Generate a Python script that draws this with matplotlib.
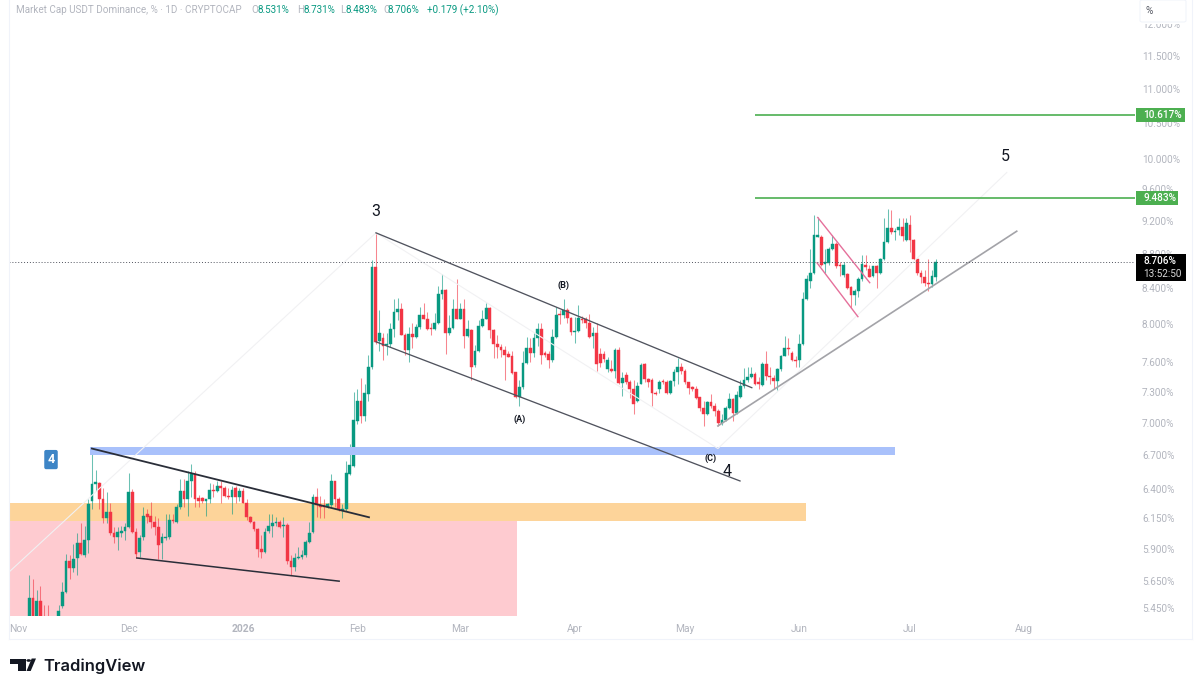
#!/usr/bin/env python3
"""USDT dominance daily candles with the wave count drawings."""
import matplotlib
matplotlib.use("Agg")
import matplotlib.dates as mdates
import matplotlib.pyplot as plt
import numpy as np
import pandas as pd
from matplotlib.patches import Circle, FancyBboxPatch, Polygon, Rectangle

# daily candles, last one is 8 Jul 2026
opens = [
    5.30, 5.52, 5.30, 5.50, 5.36, 5.33, 5.28, 5.25, 5.35, 5.46,
    5.57, 5.81, 5.75, 5.83, 5.95, 5.85, 5.97, 6.30, 6.44, 6.45,
    6.31, 6.15, 6.20, 6.03, 6.00, 6.03, 6.05, 6.08, 6.37, 6.04,
    5.88, 6.00, 6.19, 6.17, 6.12, 6.08, 5.95, 5.99, 6.00, 6.14,
    6.12, 6.25, 6.38, 6.31, 6.47, 6.53, 6.32, 6.32, 6.30, 6.31,
    6.39, 6.38, 6.43, 6.41, 6.34, 6.33, 6.41, 6.33, 6.38, 6.28,
    6.16, 6.12, 6.06, 5.90, 5.88, 6.05, 6.09, 6.11, 6.12, 6.09,
    6.10, 5.81, 5.76, 5.83, 5.84, 5.85, 5.96, 6.04, 6.33, 6.26,
    6.26, 6.25, 6.26, 6.47, 6.31, 6.22, 6.23, 6.53, 6.60,
    7.02, 7.21, 7.06, 7.28, 7.55, 8.64, 7.82, 7.85, 7.78, 7.79,
    7.95, 8.13, 8.16, 7.88, 7.72, 7.89, 7.86, 7.97, 8.10, 8.06,
    7.96, 7.95, 8.01, 8.33, 8.38, 7.90, 7.96, 8.16, 8.06, 8.16,
    7.87, 7.94, 7.57, 7.71, 7.98, 8.06, 8.18, 7.94, 7.79, 7.76,
    7.72, 7.68, 7.66, 7.50, 7.25, 7.35, 7.59, 7.74, 7.69, 7.85,
    7.95, 7.69, 7.68, 7.62, 7.86, 8.11, 8.10, 8.15, 8.07, 7.91,
    7.92, 8.06, 8.05, 8.01, 7.87, 7.90, 7.68, 7.68, 7.53, 7.53,
    7.51, 7.72, 7.39, 7.47, 7.40, 7.33, 7.21, 7.38, 7.58, 7.43,
    7.42, 7.29, 7.33, 7.41, 7.40, 7.29, 7.41, 7.50, 7.55, 7.51,
    7.40, 7.35, 7.33, 7.25, 7.14, 7.08, 7.20, 7.16, 7.11, 7.00,
    7.03, 7.14, 7.23, 7.09,
    7.25, 7.36, 7.42, 7.45, 7.48, 7.40, 7.37, 7.58, 7.46, 7.44,
    7.41, 7.53, 7.66, 7.74, 7.69, 7.62, 7.62, 7.79, 8.27, 8.48,
    8.57, 9.00, 9.00, 8.68, 8.69, 8.85, 8.92, 8.67, 8.55, 8.56,
    8.41, 8.32, 8.37, 8.50, 8.67, 8.62, 8.54, 8.65, 8.57, 8.73,
    8.94, 9.11, 9.06, 9.08, 9.12, 8.96, 9.15, 8.96, 8.73, 8.57,
    8.52, 8.46, 8.44, 8.531,
]
highs = [
    5.70, 5.67, 5.58, 5.61, 5.47, 5.47, 5.37, 5.39, 5.47, 5.64,
    5.86, 5.85, 5.94, 6.03, 6.11, 6.09, 6.31, 6.76, 6.57, 6.46,
    6.41, 6.37, 6.28, 6.08, 6.08, 6.09, 6.11, 6.54, 6.40, 6.07,
    6.01, 6.25, 6.23, 6.29, 6.17, 6.15, 6.03, 6.19, 6.19, 6.19,
    6.27, 6.49, 6.49, 6.56, 6.62, 6.56, 6.35, 6.33, 6.31, 6.45,
    6.44, 6.47, 6.47, 6.43, 6.41, 6.43, 6.43, 6.41, 6.41, 6.31,
    6.17, 6.13, 6.07, 6.01, 6.07, 6.19, 6.19, 6.16, 6.14, 6.16,
    6.11, 5.85, 5.87, 5.92, 5.89, 5.97, 6.12, 6.36, 6.41, 6.34,
    6.31, 6.28, 6.53, 6.47, 6.33, 6.27, 6.65, 6.80, 7.30,
    7.33, 7.44, 7.38, 7.67, 8.72, 9.04, 8.15, 7.90, 7.90, 8.01,
    8.27, 8.29, 8.23, 7.90, 7.97, 8.01, 8.00, 8.19, 8.23, 8.13,
    8.01, 8.12, 8.42, 8.56, 8.39, 8.10, 8.27, 8.50, 8.23, 8.27,
    8.04, 7.95, 7.78, 8.04, 8.15, 8.23, 8.19, 7.95, 7.88, 7.79,
    7.77, 7.71, 7.71, 7.50, 7.42, 7.71, 7.86, 7.85, 7.90, 8.01,
    8.01, 7.71, 7.71, 7.95, 8.19, 8.15, 8.27, 8.18, 8.08, 8.08,
    8.21, 8.09, 8.08, 8.11, 7.97, 8.01, 7.75, 7.71, 7.65, 7.62,
    7.74, 7.76, 7.50, 7.50, 7.42, 7.42, 7.40, 7.59, 7.59, 7.44,
    7.44, 7.31, 7.42, 7.43, 7.42, 7.42, 7.53, 7.64, 7.59, 7.53,
    7.40, 7.36, 7.36, 7.25, 7.21, 7.21, 7.28, 7.19, 7.13, 7.08,
    7.16, 7.29, 7.24, 7.31,
    7.42, 7.54, 7.55, 7.55, 7.50, 7.45, 7.60, 7.71, 7.55, 7.47,
    7.54, 7.67, 7.87, 7.85, 7.71, 7.66, 7.89, 8.35, 8.55, 8.85,
    9.27, 9.25, 9.02, 8.85, 8.88, 9.02, 8.94, 8.70, 8.70, 8.57,
    8.42, 8.39, 8.52, 8.78, 8.78, 8.66, 8.65, 8.67, 8.75, 9.23,
    9.35, 9.33, 9.11, 9.23, 9.23, 9.23, 9.27, 8.97, 8.74, 8.61,
    8.61, 8.74, 8.61, 8.731,
]
lows = [
    5.25, 5.28, 5.25, 5.25, 5.25, 5.22, 5.20, 5.20, 5.30, 5.45,
    5.56, 5.67, 5.72, 5.70, 5.85, 5.84, 5.87, 6.23, 6.38, 6.23,
    6.11, 6.11, 6.01, 5.95, 5.89, 6.00, 5.97, 6.07, 6.03, 5.83,
    5.84, 5.97, 6.11, 6.07, 6.01, 5.82, 5.82, 5.97, 5.98, 6.11,
    6.11, 6.23, 6.25, 6.17, 6.33, 6.25, 6.25, 6.28, 6.17, 6.28,
    6.33, 6.37, 6.28, 6.33, 6.31, 6.19, 6.28, 6.30, 6.28, 6.14,
    6.11, 6.05, 5.84, 5.83, 5.87, 6.03, 6.00, 6.09, 6.07, 6.00,
    5.78, 5.70, 5.73, 5.82, 5.82, 5.84, 5.95, 6.03, 6.16, 6.15,
    6.15, 6.24, 6.25, 6.25, 6.21, 6.15, 6.21, 6.52, 6.59,
    6.99, 7.00, 7.02, 7.21, 7.53, 7.79, 7.71, 7.62, 7.67, 7.76,
    7.86, 8.04, 7.88, 7.67, 7.60, 7.74, 7.85, 7.95, 8.05, 7.94,
    7.88, 7.94, 8.00, 8.27, 7.68, 7.88, 7.95, 8.06, 8.05, 7.74,
    7.86, 7.42, 7.55, 7.70, 7.97, 8.05, 7.85, 7.64, 7.64, 7.65,
    7.42, 7.65, 7.48, 7.24, 7.16, 7.33, 7.58, 7.60, 7.65, 7.77,
    7.58, 7.65, 7.54, 7.60, 7.85, 8.00, 8.07, 8.01, 7.88, 7.80,
    7.91, 8.01, 7.96, 7.85, 7.74, 7.51, 7.55, 7.60, 7.50, 7.50,
    7.44, 7.38, 7.26, 7.38, 7.24, 7.08, 7.20, 7.38, 7.40, 7.35,
    7.16, 7.27, 7.29, 7.38, 7.28, 7.28, 7.36, 7.38, 7.48, 7.38,
    7.28, 7.31, 7.23, 7.11, 6.97, 7.07, 7.14, 7.06, 6.97, 6.98,
    7.02, 7.13, 7.02, 7.08,
    7.24, 7.34, 7.40, 7.44, 7.37, 7.33, 7.36, 7.42, 7.38, 7.33,
    7.32, 7.51, 7.66, 7.67, 7.61, 7.55, 7.55, 7.78, 8.26, 8.40,
    8.56, 9.00, 8.65, 8.57, 8.67, 8.84, 8.63, 8.54, 8.53, 8.39,
    8.17, 8.21, 8.30, 8.48, 8.61, 8.52, 8.52, 8.40, 8.56, 8.72,
    8.93, 9.03, 8.96, 9.02, 8.95, 8.95, 8.82, 8.72, 8.55, 8.46,
    8.42, 8.37, 8.41, 8.483,
]
closes = [
    5.52, 5.30, 5.50, 5.32, 5.30, 5.25, 5.22, 5.35, 5.43, 5.57,
    5.81, 5.75, 5.82, 5.95, 5.86, 5.97, 6.27, 6.44, 6.46, 6.31,
    6.15, 6.20, 6.03, 6.00, 6.04, 6.05, 6.08, 6.37, 6.04, 5.86,
    5.99, 6.17, 6.16, 6.12, 6.08, 5.93, 6.00, 6.00, 6.14, 6.13,
    6.25, 6.38, 6.31, 6.47, 6.53, 6.31, 6.30, 6.30, 6.31, 6.39,
    6.38, 6.43, 6.41, 6.34, 6.33, 6.39, 6.33, 6.38, 6.28, 6.16,
    6.12, 6.06, 5.90, 5.88, 6.04, 6.09, 6.11, 6.12, 6.08, 6.10,
    5.81, 5.76, 5.83, 5.84, 5.85, 5.96, 6.03, 6.33, 6.26, 6.25,
    6.25, 6.27, 6.47, 6.31, 6.23, 6.23, 6.54, 6.61, 7.03,
    7.21, 7.06, 7.29, 7.55, 8.64, 7.81, 7.90, 7.77, 7.79, 7.95,
    8.13, 8.16, 7.88, 7.72, 7.89, 7.86, 7.97, 8.10, 8.06, 7.95,
    7.95, 8.01, 8.33, 8.38, 7.90, 7.96, 8.16, 8.06, 8.16, 7.87,
    7.95, 7.55, 7.71, 7.98, 8.06, 8.18, 7.94, 7.79, 7.76, 7.72,
    7.67, 7.65, 7.49, 7.25, 7.35, 7.59, 7.74, 7.69, 7.85, 7.95,
    7.67, 7.67, 7.62, 7.86, 8.10, 8.10, 8.15, 8.07, 7.91, 7.92,
    8.07, 8.04, 8.01, 7.86, 7.90, 7.58, 7.59, 7.63, 7.62, 7.51,
    7.72, 7.39, 7.44, 7.40, 7.33, 7.18, 7.36, 7.57, 7.43, 7.40,
    7.29, 7.28, 7.40, 7.40, 7.29, 7.41, 7.50, 7.55, 7.51, 7.40,
    7.34, 7.33, 7.24, 7.14, 7.08, 7.20, 7.16, 7.11, 7.00, 7.03,
    7.14, 7.23, 7.09, 7.27,
    7.36, 7.42, 7.45, 7.48, 7.38, 7.38, 7.58, 7.46, 7.45, 7.41,
    7.53, 7.66, 7.74, 7.73, 7.62, 7.61, 7.79, 8.27, 8.50, 8.57,
    9.02, 9.02, 8.67, 8.70, 8.85, 8.92, 8.65, 8.65, 8.66, 8.40,
    8.32, 8.37, 8.50, 8.68, 8.64, 8.53, 8.65, 8.57, 8.74, 8.94,
    9.11, 9.06, 9.07, 9.12, 9.01, 9.17, 8.96, 8.73, 8.57, 8.52,
    8.46, 8.44, 8.54, 8.706,
]
last_day = "2026-07-08"

# price scale labels
price_ticks = [5.45, 5.65, 5.9, 6.15, 6.4, 6.7, 7.0, 7.3, 7.6, 8.0, 8.4, 8.8,
               9.2, 9.6, 10.0, 10.5, 11.0, 11.5, 12.0]
month_ticks = ["2025-11-01", "2025-12-01", "2026-01-01", "2026-02-01", "2026-03-01",
               "2026-04-01", "2026-05-01", "2026-06-01", "2026-07-01", "2026-08-01"]
month_labels = ["Nov", "Dec", "2026", "Feb", "Mar", "Apr", "May", "Jun", "Jul", "Aug"]

# drawings: days counted from 1 Feb 2026, and price
wedge_top_days, wedge_top_price = [-72.0, 3.2], [6.76, 6.16]
wedge_low_days, wedge_low_price = [-59.8, -4.9], [5.83, 5.65]
channel_top_days, channel_top_price = [5.1, 107.1], [9.05, 7.34]
channel_low_days, channel_low_price = [5.1, 103.9], [7.81, 6.47]
wave_days, wave_price = [-94.5, 5.1, 97.9, 176.3], [5.72, 9.05, 6.76, 9.82]
support_days, support_price = [97.9, 179.0], [6.97, 9.07]
flag_top_days, flag_top_price = [125.0, 139.1], [9.24, 8.46]
flag_low_days, flag_low_price = [124.8, 135.9], [8.69, 8.08]
wave_labels = [("3", 5.1, 9.31), ("5", 175.8, 10.04), ("4", 100.3, 6.55)]
sub_labels = [("(A)", 44.2, 7.03), ("(B)", 56.1, 8.43), ("(C)", 96.0, 6.67)]
target_prices = [10.617, 9.483]
target_start_day = 108.0
last_price = 8.706

GREEN = "#089981"
RED = "#F23645"
GREY = "#B2B5BE"
W, H = 1200, 691


def fx(x):
    return x / W


def fy(y):
    return 1 - y / H


plt.rcParams["font.family"] = ["Roboto", "DejaVu Sans"]
fig = plt.figure(figsize=(12, 6.91), dpi=100)
ax = fig.add_axes([fx(9), fy(616), fx(1135) - fx(9), fy(0) - fy(616)])
ax.set_yscale("log")

feb1 = mdates.date2num(pd.Timestamp("2026-02-01"))
days = mdates.date2num(pd.date_range(end=last_day, periods=len(opens), freq="D"))
o, h, l, c = map(np.array, (opens, highs, lows, closes))
colors = np.where(c >= o, GREEN, RED)

# zones under the candles
x_left, x_right = feb1 - 94.5, feb1 + 211.1
ax.add_patch(Rectangle((x_left, 5.3), feb1 + 43.4 - x_left, 6.13 - 5.3, color="#FECBD0", lw=0, zorder=1))
ax.add_patch(Rectangle((x_left, 6.13), feb1 + 121.8 - x_left, 6.28 - 6.13, color="#FDD49A", lw=0, zorder=1))

ax.vlines(days, l, h, colors=colors, lw=0.75, alpha=0.6, zorder=2)
ax.bar(days, np.abs(c - o), bottom=np.minimum(o, c), width=0.74, color=colors,
       edgecolor=colors, linewidth=0.3, zorder=3)

ax.add_patch(Rectangle((feb1 - 72.5, 6.70), 145.9 + 72.5, 6.775 - 6.70, color="#A9C1FB", lw=0, zorder=4))

ax.plot(feb1 + np.array(wave_days), wave_price, color="#F1F1F3", lw=0.8, zorder=4)
ax.plot(feb1 + np.array(wedge_top_days), wedge_top_price, color="#2A2E39", lw=1.3, zorder=5)
ax.plot(feb1 + np.array(wedge_low_days), wedge_low_price, color="#2A2E39", lw=1.1, zorder=5)
ax.plot(feb1 + np.array(channel_top_days), channel_top_price, color="#50535E", lw=0.95, zorder=5)
ax.plot(feb1 + np.array(channel_low_days), channel_low_price, color="#50535E", lw=0.95, zorder=5)
ax.plot(feb1 + np.array(support_days), support_price, color="#A3A3A8", lw=1.2, zorder=5)
ax.plot(feb1 + np.array(flag_top_days), flag_top_price, color="#E5709B", lw=1.0, zorder=5)
ax.plot(feb1 + np.array(flag_low_days), flag_low_price, color="#E5709B", lw=1.0, zorder=5)

ax.axhline(last_price, color="#50535E", lw=0.7, ls=(0, (1, 2)), zorder=5)
for price in target_prices:
    ax.hlines(price, feb1 + target_start_day, x_right, color="#4CAF50", lw=1.2, zorder=5)

for label, day, price in wave_labels:
    ax.text(feb1 + day, price, label, fontsize=11.5, color="#131722", ha="center", va="center", zorder=6)
for label, day, price in sub_labels:
    ax.text(feb1 + day, price, label, fontsize=6.5, color="#131722", weight="bold",
            ha="center", va="center", zorder=6)
ax.text(feb1 - 83.1, 6.66, "4", fontsize=9, color="white", weight="bold", ha="center", va="center", zorder=6,
        bbox=dict(boxstyle="round,pad=0.25,rounding_size=0.15", fc="#3D85C6", ec="none"))

ax.set_xlim(x_left, x_right)
ax.set_ylim(5.39, 12.4)
ax.yaxis.tick_right()
ax.minorticks_off()
ax.set_yticks(price_ticks)
ax.set_yticklabels([f"{t:.3f}%" for t in price_ticks])
ax.set_xticks(mdates.date2num(pd.to_datetime(month_ticks)))
ax.set_xticklabels(month_labels)
ax.tick_params(axis="y", length=0, pad=5, labelsize=7.2, labelcolor=GREY)
ax.tick_params(axis="x", length=0, pad=6, labelsize=7.4, labelcolor=GREY)
ax.get_xticklabels()[2].set_fontweight("bold")
for spine in ax.spines.values():
    spine.set_visible(False)

# pane frame
frame_kw = dict(transform=fig.transFigure, color="#F0F3FA", lw=0.8)
fig.add_artist(plt.Line2D([fx(9), fx(9)], [fy(0), fy(639)], **frame_kw))
fig.add_artist(plt.Line2D([fx(1192), fx(1192)], [fy(0), fy(639)], **frame_kw))
fig.add_artist(plt.Line2D([fx(9), fx(1192)], [fy(639), fy(639)], **frame_kw))

# legend line at the top
header = [
    (16, "Market Cap USDT Dominance, % · 1D · CRYPTOCAP", GREY),
    (251, "O", GREY), (258, "8.531%", GREEN),
    (297, "H", GREY), (303, "8.731%", GREEN),
    (340, "L", GREY), (345, "8.483%", GREEN),
    (383, "C", GREY), (388, "8.706%", GREEN),
    (427, "+0.179 (+2.10%)", GREEN),
]
for x, txt, col in header:
    fig.text(fx(x), fy(10), txt, fontsize=7.1, color=col, va="center", ha="left")

# top right button hides the 12.000% label
fig.add_artist(Rectangle((fx(1136), fy(24)), fx(55), 24 / H, transform=fig.transFigure, fc="white", ec="none", zorder=2))
fig.add_artist(FancyBboxPatch((fx(1140), fy(22)), fx(46), 22 / H, boxstyle="round,pad=0,rounding_size=0.002",
                              transform=fig.transFigure, fc="white", ec="#F0F3FA", lw=0.7, zorder=2))
fig.text(fx(1149), fy(11), "%", fontsize=7.2, color="#50535E", va="center", ha="center")

# price tags
fig.add_artist(Rectangle((fx(1136), fy(122)), fx(49), 14 / H, transform=fig.transFigure, fc="#4CAF50", ec="none", zorder=2))
fig.text(fx(1143), fy(115), "10.617%", fontsize=7.2, color="white", va="center", weight="medium")
fig.add_artist(Rectangle((fx(1136), fy(205)), fx(42), 14 / H, transform=fig.transFigure, fc="#4CAF50", ec="none", zorder=2))
fig.text(fx(1143), fy(198), "9.483%", fontsize=7.2, color="white", va="center", weight="medium")
fig.add_artist(Rectangle((fx(1136), fy(281)), fx(50), 27 / H, transform=fig.transFigure, fc="black", ec="none", zorder=2))
fig.text(fx(1143), fy(261), "8.706%", fontsize=7.2, color="white", va="center", weight="medium")
fig.text(fx(1143), fy(274), "13:52:50", fontsize=7.2, color="#D8D8D8", va="center")

# logo
logo = "#131722"
fig.add_artist(Polygon([(fx(a), fy(b)) for a, b in [(10, 658.5), (26, 658.5), (26, 671), (18, 671), (18, 663.5), (10, 663.5)]],
                       transform=fig.transFigure, fc=logo, ec="none"))
fig.add_artist(Polygon([(fx(a), fy(b)) for a, b in [(31.7, 658.5), (36, 658.5), (30.7, 671), (26.5, 671)]],
                       transform=fig.transFigure, fc=logo, ec="none"))
fig.text(fx(43), fy(671), "TradingView", fontsize=11.9, color=logo, family=["Inter", "Roboto"], weight="semibold",
         va="baseline", ha="left")
fig.add_artist(Circle((fx(28.7), fy(660.5)), 2.3 / W, transform=fig.transFigure, fc=logo, ec="none"))

fig.savefig("out.png", dpi=100)
